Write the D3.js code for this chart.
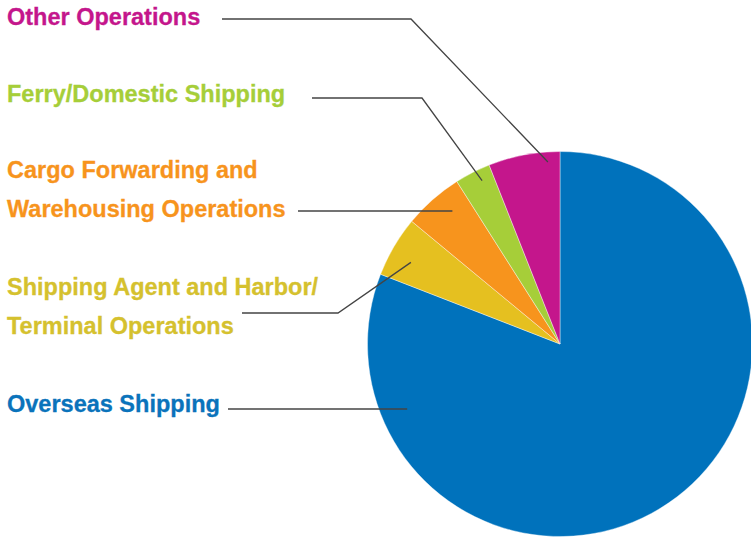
<!DOCTYPE html>
<html>
<head>
<meta charset="utf-8">
<script src="https://cdn.jsdelivr.net/npm/d3@7"></script>
<style>
  body { margin: 0; background: #fff; }
  svg { display: block; }
</style>
</head>
<body>
<div id="chart"></div>
<script>
// data (share of total, %)
let categories = ["Overseas Shipping", "Shipping Agent and Harbor/Terminal Operations",
    "Cargo Forwarding and Warehousing Operations", "Ferry/Domestic Shipping", "Other Operations"];
let shares = [80.9, 5.1, 5.0, 3.0, 6.0];
let sliceColors = ["#0072bc", "#e5c020", "#f7941d", "#a6ce39", "#c4168c"];
let textColors = ["#0a73bb", "#d5c12e", "#f7941d", "#a6ce39", "#c4168c"];
let labelLines = [["Overseas Shipping"], ["Shipping Agent and Harbor/", "Terminal Operations"],
    ["Cargo Forwarding and", "Warehousing Operations"], ["Ferry/Domestic Shipping"], ["Other Operations"]];

let w = 751;
let h = 539;
let cx = 560, cy = 344, r = 192.5;

let svg = d3.select("#chart")
    .append("svg")
    .attr("width", w)
    .attr("height", h);

// pie runs clockwise from 12 o'clock, biggest slice first
let pie = d3.pie()
    .sort(null)
    .value(function (d) { return d; });
let arcs = pie(shares);
let arc = d3.arc().innerRadius(0).outerRadius(r);

let g = svg.append("g").attr("transform", "translate(" + cx + "," + cy + ")");
g.selectAll("path")
    .data(arcs)
    .enter()
    .append("path")
    .attr("d", arc)
    .attr("fill", function (d, i) { return sliceColors[i]; })
    .attr("stroke", "#fff")
    .attr("stroke-width", 0.4);

// label layout (text baseline, leader start, optional elbow, anchor inside slice)
let layout = [
    { y: 412, x0: 228, elbow: null, lineY: 409, ang: 247, rad: 166 },
    { y: 295, x0: 242, elbow: 338, lineY: 313, ang: 298.7, rad: 170 },
    { y: 178, x0: 298, elbow: null, lineY: 211, ang: 321, rad: 171 },
    { y: 102, x0: 312, elbow: 422, lineY: 98, ang: 334.5, rad: 181 },
    { y: 25, x0: 222, elbow: 411, lineY: 19, ang: 356.2, rad: 182.4 }
];

layout.forEach(function (L, i) {
    let a = L.ang * Math.PI / 180;
    let px = cx + L.rad * Math.sin(a);
    let py = cy - L.rad * Math.cos(a);
    let pts = [[L.x0, L.lineY]];
    if (L.elbow != null) pts.push([L.elbow, L.lineY]);
    pts.push([px, L.elbow != null ? py : L.lineY]);
    svg.append("path")
        .attr("d", d3.line()(pts))
        .attr("fill", "none")
        .attr("stroke", "#444")
        .attr("stroke-width", 1.3);

    let t = svg.append("text")
        .attr("x", 7)
        .attr("y", L.y)
        .attr("fill", textColors[i])
        .style("font-family", "'Liberation Sans', Arial, sans-serif")
        .style("font-weight", "bold")
        .style("font-size", "23.5px")
        .style("stroke", textColors[i])
        .style("stroke-width", 0.3);
    labelLines[i].forEach(function (s, k) {
        t.append("tspan")
            .attr("x", 7)
            .attr("dy", k == 0 ? 0 : 39)
            .text(s);
    });
});
</script>
</body>
</html>
